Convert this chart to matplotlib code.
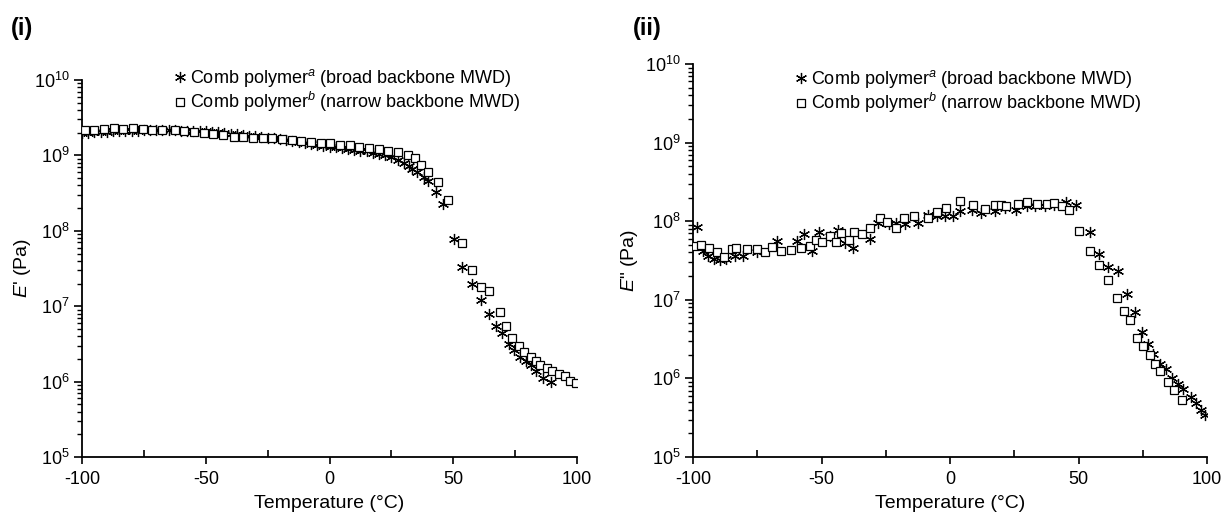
import numpy as np
import matplotlib
matplotlib.use("Agg")
import matplotlib.pyplot as plt
from matplotlib.ticker import FixedLocator, LogLocator, NullFormatter

plt.rcParams['font.family'] = ['Liberation Sans', 'DejaVu Sans']
plt.rcParams['mathtext.fontset'] = 'custom'
plt.rcParams['mathtext.rm'] = 'Liberation Sans'
plt.rcParams['mathtext.it'] = 'Liberation Sans:italic'
plt.rcParams['axes.unicode_minus'] = False

# (i) storage modulus E', comb polymer a (broad backbone MWD)
temp_a1 = [-100, -97.5, -95, -92.5, -90, -87.5, -85, -82.5, -80, -77.5, -75, -72.5,
           -70, -67.5, -65, -62.5, -60, -57.5, -55, -52.5, -50, -47.5, -45, -42.5,
           -40, -37.5, -35, -32.5, -30, -27.5, -25, -22.5, -20, -17.5, -15, -12.5,
           -10, -7.5, -5, -2.5, 0, 2.5, 5, 7.5, 10, 12.5, 15, 17.5, 20, 22.5, 25,
           27.5, 30, 32, 33.4, 35.4, 38, 39.9, 43.2, 45.9, 50.2, 53.7, 57.6, 61.1,
           64.6, 67.4, 69.6, 72.4, 74.4, 77.1, 79.4, 81.4, 83.6, 86.4, 89.5]
e1_a = [1.98e9, 2.0e9, 2.02e9, 2.04e9, 2.06e9, 2.08e9, 2.1e9, 2.12e9, 2.13e9, 2.14e9,
        2.15e9, 2.16e9, 2.16e9, 2.16e9, 2.15e9, 2.15e9, 2.14e9, 2.13e9, 2.12e9, 2.1e9,
        2.08e9, 2.05e9, 2.02e9, 1.99e9, 1.95e9, 1.91e9, 1.87e9, 1.83e9, 1.8e9, 1.76e9,
        1.72e9, 1.68e9, 1.64e9, 1.6e9, 1.56e9, 1.51e9, 1.47e9, 1.43e9, 1.39e9, 1.35e9,
        1.31e9, 1.28e9, 1.25e9, 1.22e9, 1.19e9, 1.16e9, 1.13e9, 1.09e9, 1.05e9, 1.0e9,
        9.5e8, 8.8e8, 8.0e8, 7.2e8, 6.6e8, 6.0e8, 5.1e8, 4.6e8, 3.3e8, 2.3e8, 7.8e7,
        3.3e7, 1.95e7, 1.2e7, 7.8e6, 5.5e6, 4.4e6, 3.2e6, 2.6e6, 2.15e6, 1.85e6,
        1.65e6, 1.4e6, 1.13e6, 9.8e5]

# (i) storage modulus E', comb polymer b (narrow backbone MWD)
temp_b1 = [-98.9, -95, -91.1, -87.2, -83.3, -79.4, -75.5, -71.6, -67.7, -62.6, -58.7,
           -54.8, -50.9, -47, -43.1, -38.7, -34.8, -30.9, -27, -23.1, -19.2, -15.3,
           -11.4, -7.5, -3.6, 0.3, 4.2, 8.1, 12, 15.9, 19.8, 23.7, 27.6, 31.5, 34.6,
           37, 39.8, 44, 47.9, 53.7, 57.6, 61.1, 64.6, 68.8, 71.1, 73.9, 76.6, 78.6,
           81.4, 83.3, 85.2, 87.7, 89.9, 92.7, 95, 97, 99.4]
e1_b = [2.2e9, 2.2e9, 2.24e9, 2.29e9, 2.27e9, 2.29e9, 2.27e9, 2.2e9, 2.16e9, 2.16e9,
        2.1e9, 2.06e9, 2.0e9, 1.93e9, 1.89e9, 1.78e9, 1.75e9, 1.72e9, 1.68e9, 1.68e9,
        1.65e9, 1.62e9, 1.56e9, 1.5e9, 1.47e9, 1.44e9, 1.39e9, 1.36e9, 1.3e9, 1.26e9,
        1.21e9, 1.16e9, 1.1e9, 1.02e9, 9.2e8, 7.4e8, 6.1e8, 4.4e8, 2.6e8, 6.8e7,
        3.0e7, 1.8e7, 1.6e7, 8.4e6, 5.5e6, 3.8e6, 3.0e6, 2.5e6, 2.1e6, 1.9e6, 1.65e6,
        1.5e6, 1.4e6, 1.27e6, 1.17e6, 1.03e6, 9.6e5]

# (ii) loss modulus E'', comb polymer a
temp_a2 = [-98.5, -96.3, -94, -91.8, -89.5, -87, -83.5, -80.6, -75.3, -67.4, -59.6,
           -56.9, -53.6, -50.9, -46.9, -43.5, -40.9, -37.9, -31.2, -27.9, -23.7, -21,
           -17.7, -12.5, -8.7, -5, -2, 1, 4, 8.5, 12.2, 17.4, 21.2, 25.7, 29.8, 33.1,
           36.9, 40.6, 45.1, 48.9, 54.4, 58.1, 61.6, 65.3, 69, 72, 74.6, 77, 79.1,
           81.8, 84, 86.2, 88.5, 90.7, 93.7, 95.5, 97.5, 99.3]
e2_a = [8.5e7, 4.2e7, 3.6e7, 3.3e7, 3.2e7, 3.3e7, 3.6e7, 3.6e7, 4.0e7, 5.6e7, 5.6e7,
        6.8e7, 4.2e7, 7.3e7, 6.5e7, 7.8e7, 5.3e7, 4.6e7, 5.9e7, 9.5e7, 9.1e7, 9.5e7,
        9.3e7, 9.5e7, 1.2e8, 1.15e8, 1.15e8, 1.15e8, 1.35e8, 1.4e8, 1.27e8, 1.34e8,
        1.48e8, 1.4e8, 1.55e8, 1.58e8, 1.55e8, 1.6e8, 1.74e8, 1.6e8, 7.3e7, 3.8e7,
        2.6e7, 2.3e7, 1.18e7, 6.9e6, 3.9e6, 2.75e6, 2.05e6, 1.54e6, 1.33e6, 1.0e6,
        8.6e5, 7.4e5, 5.8e5, 4.8e5, 4.0e5, 3.4e5]

# (ii) loss modulus E'', comb polymer b
temp_b2 = [-99.3, -97, -93.7, -90.7, -88, -85, -83.1, -79, -75.3, -71.9, -69.3, -65.6,
           -61.9, -58.1, -54.4, -52.1, -49.9, -46.9, -44.3, -42.4, -39.4, -37.2, -34.2,
           -31.2, -27.4, -24.5, -21, -18, -14, -8.7, -5, -1.6, 4, 8.9, 13.4, 17.4,
           19.7, 21.9, 26.4, 30.1, 33.9, 37.6, 40.6, 43.6, 46.3, 50.3, 54.4, 57.8,
           61.6, 64.9, 67.5, 70.2, 72.8, 75, 77.7, 79.8, 81.8, 84.7, 87.3, 90.3]
e2_b = [4.8e7, 5.0e7, 4.6e7, 4.1e7, 3.5e7, 4.4e7, 4.6e7, 4.4e7, 4.4e7, 4.1e7, 4.7e7,
        4.2e7, 4.3e7, 4.6e7, 4.9e7, 5.7e7, 5.4e7, 6.5e7, 5.4e7, 7.1e7, 5.7e7, 7.3e7,
        6.8e7, 8.2e7, 1.1e8, 9.7e7, 8.2e7, 1.1e8, 1.15e8, 1.1e8, 1.3e8, 1.47e8, 1.8e8,
        1.6e8, 1.45e8, 1.6e8, 1.6e8, 1.55e8, 1.66e8, 1.74e8, 1.67e8, 1.66e8, 1.7e8,
        1.58e8, 1.38e8, 7.5e7, 4.2e7, 2.8e7, 1.77e7, 1.05e7, 7.2e6, 5.5e6, 3.3e6,
        2.6e6, 1.96e6, 1.54e6, 1.24e6, 9.1e5, 7.1e5, 5.3e5]

label_a = "Comb polymer$^{a}$ (broad backbone MWD)"
label_b = "Comb polymer$^{b}$ (narrow backbone MWD)"
x_ticks = [-100, -50, 0, 50, 100]

fig = plt.figure(figsize=(12.21, 5.22), dpi=100)
ax1 = fig.add_axes([0.0672, 0.1245, 0.4054, 0.7222])
ax2 = fig.add_axes([0.5676, 0.1245, 0.421, 0.7529])

star = (6, 2, 0)

def draw(ax, ta, ea, tb, eb, ylab, leg_x, leg_y):
    ax.plot(ta, ea, linestyle='none', marker=star, markersize=8, color='black',
            markeredgewidth=0.9, label=label_a, zorder=3)
    ax.plot(tb, eb, linestyle='none', marker='s', markersize=6, markerfacecolor='white',
            markeredgecolor='black', markeredgewidth=0.9, label=label_b, zorder=4)
    ax.set_yscale('log')
    ax.set_xlim(-100, 100)
    ax.set_ylim(1e5, 1e10)
    ax.spines['top'].set_visible(False)
    ax.spines['right'].set_visible(False)
    ax.spines['left'].set_linewidth(1.3)
    ax.spines['bottom'].set_linewidth(1.3)
    ax.xaxis.set_major_locator(FixedLocator(x_ticks))
    ax.xaxis.set_minor_locator(FixedLocator([-75, -25, 25, 75]))
    ax.yaxis.set_major_locator(LogLocator(base=10, numticks=10))
    ax.yaxis.set_minor_locator(LogLocator(base=10, subs=np.arange(2, 10), numticks=10))
    ax.yaxis.set_minor_formatter(NullFormatter())
    ax.tick_params(axis='x', which='major', direction='out', length=5, width=1.2,
                   labelsize=13, pad=5)
    ax.tick_params(axis='x', which='minor', direction='in', length=5, width=1.2)
    ax.tick_params(axis='y', which='major', direction='out', length=6, width=1.2,
                   labelsize=13, pad=3)
    ax.tick_params(axis='y', which='minor', direction='out', length=3.5, width=1.0)
    ax.set_xlabel("Temperature (\u00b0C)", fontsize=14, labelpad=5)
    ax.set_ylabel(ylab, fontsize=14)
    ax.legend(loc='upper left', bbox_to_anchor=(leg_x, leg_y), frameon=False,
              fontsize=13, handletextpad=0.0, labelspacing=0.05, borderpad=0,
              handlelength=1.1, borderaxespad=0)

draw(ax1, temp_a1, e1_a, temp_b1, e1_b, "$E$' (Pa)", 0.178, 1.035)
draw(ax2, temp_a2, e2_a, temp_b2, e2_b, '$E$" (Pa)', 0.19, 0.99)
ax1.yaxis.set_label_coords(-0.099, 0.5)
ax2.yaxis.set_label_coords(-0.103, 0.5)

fig.text(0.009, 0.945, "(i)", fontsize=17, fontweight='bold', va='center')
fig.text(0.518, 0.945, "(ii)", fontsize=17, fontweight='bold', va='center')

fig.savefig("out.png", dpi=100)
